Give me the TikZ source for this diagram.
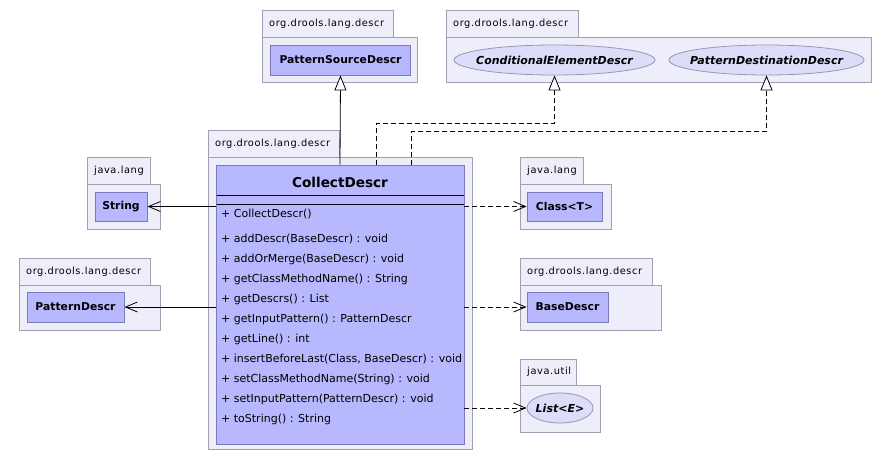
\documentclass[tikz,border=0pt]{standalone}
\usepackage{fontspec}
\setmainfont{DejaVu Sans}
\newfontfamily\pkgfont[LetterSpace=6]{DejaVu Sans}
\usetikzlibrary{arrows.meta,shapes.geometric,calc}
\definecolor{pkgfill}{RGB}{238,238,250}
\definecolor{pkgdraw}{RGB}{160,160,178}
\definecolor{clsfill}{RGB}{184,184,255}
\definecolor{clsdraw}{RGB}{122,122,186}
\definecolor{elfill}{RGB}{221,221,250}
\definecolor{eldraw}{RGB}{150,150,184}
\tikzset{
  pkg/.style={draw=pkgdraw, fill=pkgfill, line width=0.8pt},
  pkglabel/.style={font=\pkgfont\fontsize{9.8}{12}\selectfont, inner sep=0pt},
  cls/.style={draw=clsdraw, fill=clsfill, line width=0.9pt, inner sep=0pt,
    font=\bfseries\fontsize{10.8}{12}\selectfont},
  ifc/.style={ellipse, draw=eldraw, fill=elfill, line width=0.8pt, inner sep=0pt},
  ifctext/.style={inner sep=0pt, font=\bfseries\itshape\fontsize{11}{13}\selectfont},
  meth/.style={anchor=west, inner sep=0pt, font=\fontsize{11}{13}\selectfont},
  assoc/.style={line width=0.8pt, -{Straight Barb[length=12pt,width=10pt,line width=0.8pt]}},
  dep/.style={assoc, dash pattern=on 5pt off 3pt},
  gen/.style={line width=0.8pt, -{Triangle[open,length=15pt,width=12pt,line width=0.8pt,fill=white]}},
  real/.style={gen, dash pattern=on 5pt off 3pt},
}
\begin{document}
\begin{tikzpicture}[x=1pt,y=-1pt]
\useasboundingbox (0,0) rectangle (891,463);
\fill[white] (0,0) rectangle (891,463);

% --- packages (tab + body) ---
% top-left
\draw[pkg] (262,10) rectangle (393,37);
\draw[pkg] (262,37) rectangle (417,82);
\node[pkglabel, anchor=west] (p1) at (269,23.5) {org.drools.lang.descr};
% top-right
\draw[pkg] (446,10) rectangle (578,37);
\draw[pkg] (446,37) rectangle (871,82);
\node[pkglabel, anchor=west] (p2) at (453,23.5) {org.drools.lang.descr};
% main
\draw[pkg] (208,130) rectangle (339,157);
\draw[pkg] (208,157) rectangle (472,449);
\node[pkglabel, anchor=west] (p3) at (215,143.5) {org.drools.lang.descr};
% String
\draw[pkg] (87,157) rectangle (150,184);
\draw[pkg] (87,184) rectangle (160,229);
\node[pkglabel, anchor=west] (p4) at (94,170.5) {java.lang};
% PatternDescr
\draw[pkg] (19,258) rectangle (150,285);
\draw[pkg] (19,285) rectangle (160,330);
\node[pkglabel, anchor=west] (p5) at (26,271.5) {org.drools.lang.descr};
% Class<T>
\draw[pkg] (520,157) rectangle (583,184);
\draw[pkg] (520,184) rectangle (611,229);
\node[pkglabel, anchor=west] (p6) at (527,170.5) {java.lang};
% BaseDescr
\draw[pkg] (520,258) rectangle (652,285);
\draw[pkg] (520,285) rectangle (661,330);
\node[pkglabel, anchor=west] (p7) at (527,271.5) {org.drools.lang.descr};
% List<E>
\draw[pkg] (520,359) rectangle (576,385);
\draw[pkg] (520,385) rectangle (600,432);
\node[pkglabel, anchor=west] (p8) at (527,372) {java.util};

% --- classes ---
\node[cls, minimum width=140pt, minimum height=30pt] (psd) at (340.5,60) {PatternSourceDescr};
\node[ifc, minimum width=201pt, minimum height=30pt] (ced) at (554.5,60) {};
\node[ifctext] (cedt) at (ced.center) {ConditionalElementDescr};
\node[ifc, minimum width=195pt, minimum height=30pt] (pdd) at (766.5,60) {};
\node[ifctext] (pddt) at (pdd.center) {PatternDestinationDescr};
\node[cls, minimum width=52pt, minimum height=29pt] (str) at (121,206.5) {String};
\node[cls, minimum width=97pt, minimum height=30pt] (pd) at (75.5,307) {PatternDescr};
\node[cls, minimum width=75pt, minimum height=29pt] (clt) at (564.5,206.5) {Class<T>};
\node[cls, minimum width=81pt, minimum height=30pt] (bd) at (567.5,307) {BaseDescr};
\node[ifc, minimum width=66pt, minimum height=30pt] (lst) at (560,408) {};
\node[ifctext] (lstt) at (lst.center) {List<E>};

% main class
\node[cls, minimum width=248pt, minimum height=279pt] (cd) at (340,304.5) {};
\node[inner sep=0pt, font=\bfseries\fontsize{13.6}{15}\selectfont] (cdt) at (340,182) {CollectDescr};
\draw[line width=0.9pt] (216.5,195) -- (463.5,195);
\draw[line width=0.9pt] (216.5,204) -- (463.5,204);
\node[meth] (m0) at (221,214) {+ CollectDescr()};
\node[meth] (m1) at (221,239) {+ addDescr(BaseDescr) : void};
\node[meth] (m2) at (221,259) {+ addOrMerge(BaseDescr) : void};
\node[meth] (m3) at (221,279) {+ getClassMethodName() : String};
\node[meth] (m4) at (221,299) {+ getDescrs() : List};
\node[meth] (m5) at (221,319) {+ getInputPattern() : PatternDescr};
\node[meth] (m6) at (221,339) {+ getLine() : int};
\node[meth] (m7) at (221,359) {+ insertBeforeLast(Class, BaseDescr) : void};
\node[meth] (m8) at (221,379) {+ setClassMethodName(String) : void};
\node[meth] (m9) at (221,399) {+ setInputPattern(PatternDescr) : void};
\node[meth] (m10) at (221,419) {+ toString() : String};

% --- connectors ---
\draw[gen] (cd.north) -- (psd.south);
\coordinate (r1) at ($(cd.north)+(36,0)$);
\coordinate (r2) at ($(cd.north)+(71,0)$);
\draw[real] (r1) |- ($(ced.south)+(0,48)$) -- (ced.south);
\draw[real] (r2) |- ($(pdd.south)+(0,56)$) -- (pdd.south);
\draw[assoc] (cd.west |- str) -- (str.east);
\draw[assoc] (cd.west |- pd) -- (pd.east);
\draw[dep] (cd.east |- clt) -- (clt.west);
\draw[dep] (cd.east |- bd) -- (bd.west);
\draw[dep] (cd.east |- lst) -- (lst.west);
\end{tikzpicture}
\end{document}
